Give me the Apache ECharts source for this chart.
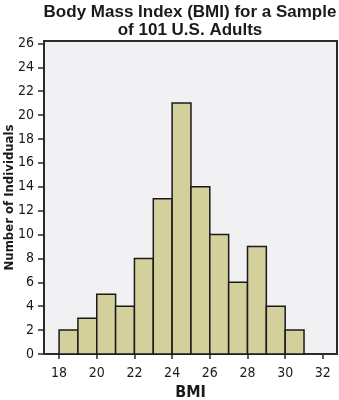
<!DOCTYPE html>
<html>
<head>
<meta charset="utf-8">
<script src="https://cdn.jsdelivr.net/npm/echarts@6/dist/echarts.min.js"></script>
<style>html,body{margin:0;padding:0;background:#fff;}#c{width:339px;height:400px;}</style>
</head>
<body>
<div id="c"></div>
<script>
const binStarts = [18, 19, 20, 21, 22, 23, 24, 25, 26, 27, 28, 29, 30];
const binWidth = 1;
const counts = [2, 3, 5, 4, 8, 13, 21, 14, 10, 6, 9, 4, 2];
const xTicks = [18, 20, 22, 24, 26, 28, 30, 32];
const yTicks = [0, 2, 4, 6, 8, 10, 12, 14, 16, 18, 20, 22, 24, 26];
const titleText = 'Body Mass Index (BMI) for a Sample\nof 101 U.S. Adults';
const xName = 'BMI';
const yName = 'Number of Individuals';

const narrow = "'Liberation Sans Narrow', 'DejaVu Sans Condensed', 'Liberation Sans', sans-serif";
const data = binStarts.map((s, i) => [s, s + binWidth, counts[i]]);

const chart = echarts.init(document.getElementById('c'), null, {renderer: 'canvas'});
chart.setOption({
  animation: false,
  backgroundColor: '#ffffff',
  title: {
    text: titleText,
    left: 185,
    top: -2,
    textAlign: 'center',
    textStyle: {fontFamily: "'Liberation Sans', Arial, sans-serif", fontSize: 17, fontWeight: 'bold', color: '#1a1a1a', lineHeight: 18}
  },
  grid: {
    left: 44, right: 2, top: 41, bottom: 46,
    containLabel: false, outerBoundsMode: 'none',
    show: true, backgroundColor: '#f1f1f3', borderColor: '#2a2a2a', borderWidth: 2
  },
  xAxis: {
    type: 'value', min: 17.2, max: 32.75,
    name: xName, nameLocation: 'middle', nameGap: 31, nameMoveOverlap: false,
    nameTextStyle: {fontFamily: narrow, fontSize: 16, fontWeight: 'bold', color: '#1a1a1a'},
    axisLine: {show: true, onZero: false, lineStyle: {color: '#2a2a2a', width: 2}},
    axisTick: {show: true, customValues: xTicks, length: 5, lineStyle: {color: '#2a2a2a', width: 1.5}},
    axisLabel: {customValues: xTicks, margin: 12, fontFamily: narrow, fontSize: 14, color: '#1a1a1a'},
    splitLine: {show: false}
  },
  yAxis: {
    type: 'value', min: 0, max: 26.2,
    name: yName, nameLocation: 'middle', nameGap: 28, nameMoveOverlap: false,
    nameTextStyle: {fontFamily: narrow, fontSize: 13, fontWeight: 'bold', color: '#1a1a1a'},
    axisLine: {show: true, lineStyle: {color: '#2a2a2a', width: 2}},
    axisTick: {show: true, customValues: yTicks, length: 6, lineStyle: {color: '#2a2a2a', width: 1.5}},
    axisLabel: {customValues: yTicks, margin: 10, fontFamily: narrow, fontSize: 14, color: '#1a1a1a'},
    splitLine: {show: false}
  },
  series: [{
    type: 'custom',
    data: data,
    encode: {x: [0, 1], y: 2},
    renderItem: function (params, api) {
      const p0 = api.coord([api.value(0), 0]);
      const p1 = api.coord([api.value(1), api.value(2)]);
      return {
        type: 'rect',
        shape: {x: p0[0], y: p1[1], width: p1[0] - p0[0], height: p0[1] - p1[1]},
        style: {fill: '#d4d09c', stroke: '#1a1a1a', lineWidth: 1.5}
      };
    }
  }]
});
</script>
</body>
</html>
